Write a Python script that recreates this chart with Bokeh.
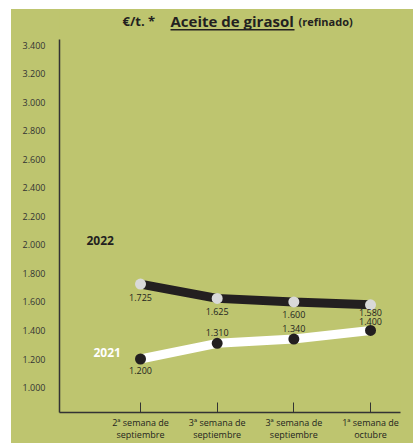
from bokeh.plotting import figure
from bokeh.models import FixedTicker, Label, BoxAnnotation, ColumnDataSource, Range1d, Spacer
from bokeh.layouts import column, row
from bokeh.embed import file_html
from bokeh.resources import INLINE
from bokeh.core.properties import value

# ---- data ----
week_labels = ["2ª semana de\nseptiembre", "3ª semana de\nseptiembre",
               "3ª semana de\nseptiembre", "1ª semana de\noctubre"]
week_pos = [1, 2, 3, 4]
price_2022 = [1725, 1625, 1600, 1580]
price_2021 = [1200, 1310, 1340, 1400]
y_ticks = [1000, 1200, 1400, 1600, 1800, 2000, 2200, 2400, 2600, 2800, 3000, 3200, 3400]


def fmt(v):
    return f"{v:,}".replace(",", ".")


y_tick_labels = [fmt(t) for t in y_ticks]

# ---- layout (screen origin of the plot canvas: OX, OY) ----
OX, OY = 11, 9
W, H = 402, 434
ML, MR, MT, MB = 48, 13, 0, 30
X0, X1 = -0.0565, 4.391
Y0, Y1 = 825, 3650
GREEN = "#bec56f"
DARK = "#231f20"
FONT = "Open Sans"


def px(sx):
    return X0 + (sx - OX - ML) * (X1 - X0) / (W - ML - MR)


def py(sy):
    return Y1 - (sy - OY - MT) * (Y1 - Y0) / (H - MT - MB)


p = figure(width=W, height=H, output_backend="svg", toolbar_location=None,
           x_range=Range1d(X0, X1), y_range=Range1d(Y0, Y1),
           min_border_left=ML, min_border_right=MR, min_border_top=MT, min_border_bottom=MB)
p.background_fill_color = GREEN
p.border_fill_color = GREEN
p.outline_line_color = None
p.xgrid.visible = False
p.ygrid.visible = False
p.styles = {"background-color": GREEN}

# y axis
ya = p.yaxis[0]
ya.ticker = FixedTicker(ticks=y_ticks)
ya.major_label_overrides = {t: l for t, l in zip(y_ticks, y_tick_labels)}
ya.bounds = (Y0, 3440)
ya.major_tick_in = 0
ya.major_tick_out = 0
ya.minor_tick_line_color = None
ya.axis_line_color = "#333333"
ya.axis_line_width = 1.5
ya.major_label_standoff = 14
ya.major_label_text_font = FONT
ya.major_label_text_font_size = "9px"
ya.major_label_text_color = "#333333"

# x axis
xa = p.xaxis[0]
xa.ticker = FixedTicker(ticks=week_pos)
xa.major_label_overrides = {t: l for t, l in zip(week_pos, week_labels)}
xa.major_tick_in = 10
xa.major_tick_out = 0
xa.major_tick_line_color = "#333333"
xa.minor_tick_line_color = None
xa.axis_line_color = "#333333"
xa.axis_line_width = 1.5
xa.major_label_standoff = 3
xa.major_label_text_font = FONT
xa.major_label_text_font_size = "9px"
xa.major_label_text_color = DARK
xa.major_label_text_line_height = 0.95

# series 2022
p.line(week_pos, price_2022, line_width=9, color=DARK)
p.scatter(week_pos, price_2022, size=11, fill_color="#d9d9d9", line_color=None)
src22 = ColumnDataSource(dict(x=week_pos, y=price_2022, t=[fmt(v) for v in price_2022],
                              off=[13, 13, 13, 8]))
p.text(x="x", y="y", text="t", y_offset="off", source=src22, text_align="center",
       text_baseline="middle", text_font=value(FONT), text_font_size="9px", text_color=DARK)

# series 2021
p.line(week_pos, price_2021, line_width=9, color="white")
p.scatter(week_pos, price_2021, size=11, fill_color=DARK, line_color=None)
src21 = ColumnDataSource(dict(x=week_pos, y=price_2021, t=[fmt(v) for v in price_2021],
                              off=[11, -11, -11, -9]))
p.text(x="x", y="y", text="t", y_offset="off", source=src21, text_align="center",
       text_baseline="middle", text_font=value(FONT), text_font_size="9px", text_color=DARK)

# year labels
p.add_layout(Label(x=px(86), y=py(241), text="2022", text_font=FONT, text_font_style="bold",
                   text_font_size="12px", text_color=DARK, text_baseline="middle"))
p.add_layout(Label(x=px(93), y=py(353), text="2021", text_font=FONT, text_font_style="bold",
                   text_font_size="12px", text_color="white", text_baseline="middle"))

# title
p.add_layout(Label(x=px(122), y=py(21), text="€/t. *", text_font=FONT, text_font_style="bold",
                   text_font_size="13px", text_color=DARK, text_baseline="alphabetic"))
p.add_layout(Label(x=px(170), y=py(21), text="Aceite de girasol", text_font=FONT,
                   text_font_style="bold", text_font_size="15px", text_color=DARK,
                   text_baseline="alphabetic"))
p.add_layout(BoxAnnotation(left=px(170), right=px(294), top=py(28.6), bottom=py(30),
                           fill_color=DARK, fill_alpha=1, line_color=None))
p.add_layout(Label(x=px(298), y=py(21), text="(refinado)", text_font=FONT,
                   text_font_style="bold", text_font_size="11px", text_color=DARK,
                   text_baseline="alphabetic"))

page = column(Spacer(width=OX + W, height=OY),
              row(Spacer(width=OX, height=H), p))

open("out.html", "w").write(file_html(page, INLINE))
